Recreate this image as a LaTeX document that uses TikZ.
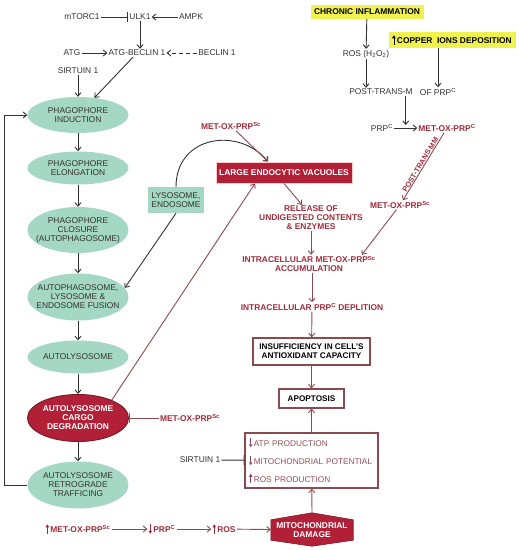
\documentclass[tikz,border=0pt]{standalone}
\usepackage{fontspec}
\setmainfont{Liberation Sans}
\usetikzlibrary{arrows.meta,positioning,shapes.geometric,backgrounds}

\definecolor{mint}{RGB}{164,216,196}
\definecolor{crim}{RGB}{178,32,56}
\definecolor{crimdark}{RGB}{120,30,40}
\definecolor{brn}{RGB}{140,74,80}
\definecolor{redtxt}{RGB}{160,44,60}
\definecolor{mtxt}{RGB}{150,78,88}
\definecolor{ylw}{RGB}{240,242,80}
\definecolor{ink}{RGB}{50,50,50}

% small up / down arrows in the labels
\newcommand{\uparr}{\tikz[x=1pt,y=1pt,baseline=0pt]\draw[-{Triangle[length=3pt,width=3.4pt]}, line width=0.7pt] (0,-1) -- (0,8.5);\,}
\newcommand{\dnarr}{\tikz[x=1pt,y=1pt,baseline=0pt]\draw[-{Triangle[length=3pt,width=3.4pt]}, line width=0.7pt] (0,8.5) -- (0,-1);\,}

\begin{document}
\begin{tikzpicture}[
  x=1pt, y=-1pt,
  font=\fontsize{8.4}{9}\selectfont,
  ell/.style={ellipse, fill=mint, text=ink, align=center, minimum width=101pt, minimum height=#1, inner xsep=-8pt, inner ysep=0pt},
  lbl/.style={text=ink, inner sep=1pt},
  rlbl/.style={text=redtxt, font=\fontsize{8.4}{9}\selectfont\bfseries, align=center, inner sep=1pt},
  rbox/.style={draw=brn, line width=1.1pt, fill=white, align=center, font=\fontsize{8.2}{9}\selectfont\bfseries},
  ybox/.style={fill=ylw, font=\fontsize{8.4}{9}\selectfont\bfseries, inner sep=1pt},
  arr/.style={-{Straight Barb[length=3.5pt,width=6pt]}, ink, line width=0.9pt},
  rarr/.style={-{Straight Barb[length=3.5pt,width=6pt]}, brn, line width=0.9pt},
  inh/.style={-{Bar[width=10pt]}, line width=0.9pt}
]
\useasboundingbox (0,0) rectangle (519,550);

% autophagy signalling
\node[lbl] (mtor) at (82,17) {mTORC1};
\node[lbl] (ulk) at (140,17) {ULK1};
\node[lbl] (ampk) at (191,17) {AMPK};
\node[lbl] (atg) at (72,53) {ATG};
\node[lbl] (atgb) at (137,53) {ATG-BECLIN 1};
\node[lbl] (becl) at (217,53) {BECLIN 1};
\node[lbl] (sirta) at (78,71) {SIRTUIN 1};

% autophagy steps
\node[ell=36pt] (ind) at (78,115) {PHAGOPHORE\\INDUCTION};
\node[ell=33pt] (elong) at (78,168) {PHAGOPHORE\\ELONGATION};
\node[ell=46pt] (clos) at (78,230) {PHAGOPHORE\\CLOSURE\\(AUTOPHAGOSOME)};
\node[ell=47pt] (fus) at (78,297) {AUTOPHAGOSOME,\\LYSOSOME \&\\ENDOSOME FUSION};
\node[ell=33pt] (autol) at (78,357) {AUTOLYSOSOME};
\node[ell=47pt, fill=crim, draw=crimdark, line width=1pt, text=white, font=\fontsize{8.4}{9}\selectfont\bfseries] (cargo) at (78,418) {AUTOLYSOSOME\\CARGO\\DEGRADATION};
\node[ell=47pt] (retro) at (78,485) {AUTOLYSOSOME\\RETROGRADE\\TRAFFICING};

\node[fill=mint, text=ink, align=center, minimum width=56pt, minimum height=26pt, inner sep=2pt] (lyso) at (176,200) {LYSOSOME,\\ENDOSOME};

% prion side
\node[fill=crim, draw=pink!80!red!50, line width=1pt, text=white, font=\fontsize{8.4}{9}\selectfont\bfseries, minimum width=136pt, minimum height=21pt, inner sep=2pt] (vac) at (284,172.5) {LARGE ENDOCYTIC VACUOLES};
\coordinate (vacin) at ([xshift=-16pt]vac.north);
\node[rlbl] (oxa) at (231,126) {MET-OX-PRP\textsuperscript{Sc}};
\node[rlbl] (rel) at (311,218) {RELEASE OF\\UNDIGESTED CONTENTS\\\& ENZYMES};
\node[rlbl] (accum) at (309,264) {INTRACELLULAR MET-OX-PRP\textsuperscript{Sc}\\ACCUMULATION};
\node[rlbl] (depl) at (312,307) {INTRACELLULAR PRP\textsuperscript{C} DEPLITION};
\node[rbox, text=black, minimum width=117pt, minimum height=27pt] (insuf) at (311.5,351.5) {INSUFFICIENCY IN CELL'S\\ANTIOXIDANT CAPACITY};
\node[rbox, text=black, minimum width=65pt, minimum height=19pt] (apop) at (311.5,398.5) {APOPTOSIS};
\node[rbox, font=\fontsize{8.3}{18}\selectfont, text=mtxt, align=left, text width=125pt, minimum height=55pt, inner sep=4pt] (mbox) at (311.5,460.5)
  {\textcolor{brn}{\dnarr}ATP PRODUCTION\\\textcolor{brn}{\dnarr}MITOCHONDRIAL POTENTIAL\\\textcolor{brn}{\uparr}ROS PRODUCTION};
\node[rlbl] (oxc) at (190,418) {MET-OX-PRP\textsuperscript{Sc}};
\node[lbl] (sirtb) at (200,460) {SIRTUIN 1};

\node[rlbl] (b1) at (78,529) {\uparr MET-OX-PRP\textsuperscript{Sc}};
\node[rlbl] (b2) at (162,529) {\dnarr PRP\textsuperscript{C}};
\node[rlbl] (b3) at (224,529) {\uparr ROS};
\node[text=white, align=center, font=\fontsize{8.4}{9}\selectfont\bfseries, minimum width=82pt, minimum height=20pt, inner sep=0pt] (mito) at (312,530) {MITOCHONDRIAL\\DAMAGE};
\begin{scope}[on background layer]
\filldraw[fill=crim, draw=crimdark, line width=0.6pt] (mito.north west) -- ([yshift=7pt]mito.north) -- (mito.north east) -- (mito.south east) -- ([yshift=-6pt]mito.south) -- (mito.south west) -- cycle;
\end{scope}

% inflammation / copper
\node[ybox, minimum width=113pt, minimum height=14pt] (chron) at (367,12) {CHRONIC INFLAMMATION};
\node[ybox, minimum width=127pt, minimum height=16pt] (copper) at (452,40) {\uparr COPPER\ \ IONS DEPOSITION};
\node[lbl] (ros) at (366,54) {ROS (H\textsubscript{2}O\textsubscript{2})};
\node[lbl] (posta) at (381,92) {POST-TRANS-M};
\node[lbl] (postb) at (438,92) {OF PRP\textsuperscript{C}};
\node[lbl] (prp) at (382,128) {PRP\textsuperscript{C}};
\node[rlbl] (oxd) at (447,128) {MET-OX-PRP\textsuperscript{C}};
\node[rlbl] (oxb) at (400,205) {MET-OX-PRP\textsuperscript{Sc}};

% connectors
\draw[inh, ink] (mtor) -- (ulk);
\draw[arr] (ampk) -- (ulk);
\draw[arr] (ulk) -- (ulk |- atgb.north);
\draw[arr] (atg) -- (atgb);
\draw[arr, dash pattern=on 4pt off 3pt] (becl) -- (atgb);
\draw[arr] (sirta) -- (ind);
\draw[arr] (atgb) -- (ind);
\draw[arr] (ind) -- (elong);
\draw[arr] (elong) -- (clos);
\draw[arr] (clos) -- (fus);
\draw[arr] (fus) -- (autol);
\draw[arr] (autol) -- (cargo);
\draw[arr] (cargo) -- (retro);
\draw[arr] (retro.west) -- ++(-23,0) |- (ind.west);
\draw[arr] (lyso.south) -- (fus.11);
\draw[arr] (lyso.north) .. controls (176,136) and (238,126) .. (vacin);
\draw[rarr] (oxa) -- (vacin);
\draw[rarr] (cargo.28) -- ([xshift=-29pt]vac.south);
\draw[rarr] (vac.south) -- ([xshift=-9pt]rel.north);
\draw[rarr] (rel.south) -- (rel.south |- accum.north);
\draw[rarr] (oxb) -- ([xshift=-15pt]accum.north east);
\draw[rarr] (depl.north |- accum.south) -- (depl.north);
\draw[rarr] (depl) -- (insuf);
\draw[rarr] (insuf) -- (apop);
\draw[rarr] (mbox) -- (apop);
\draw[rarr] ([yshift=7pt]mito.north) -- (mbox);
\draw[inh, brn] (oxc) -- (cargo);
\draw[inh, ink] (sirtb) -- (mbox);
\draw[rarr] (b1) -- (b2);
\draw[rarr] (b2) -- (b3);
\draw[rarr] (b3) -- (mito);

\draw[arr] (chron) -- (ros);
\draw[arr] (ros) -- (ros |- posta.north);
\draw[arr] (postb |- copper.south) -- (postb);
\draw[arr] (prp) -- node[coordinate, pos=0.5] (mid) {} (oxd);
\draw[arr] (mid |- posta.south) -- ([yshift=3pt]mid);
\draw[rarr] (oxd) -- node[sloped, above, rlbl, font=\fontsize{7.4}{8}\selectfont\bfseries, inner sep=0.5pt] {POST-TRANS MM} (oxb);
\end{tikzpicture}
\end{document}
